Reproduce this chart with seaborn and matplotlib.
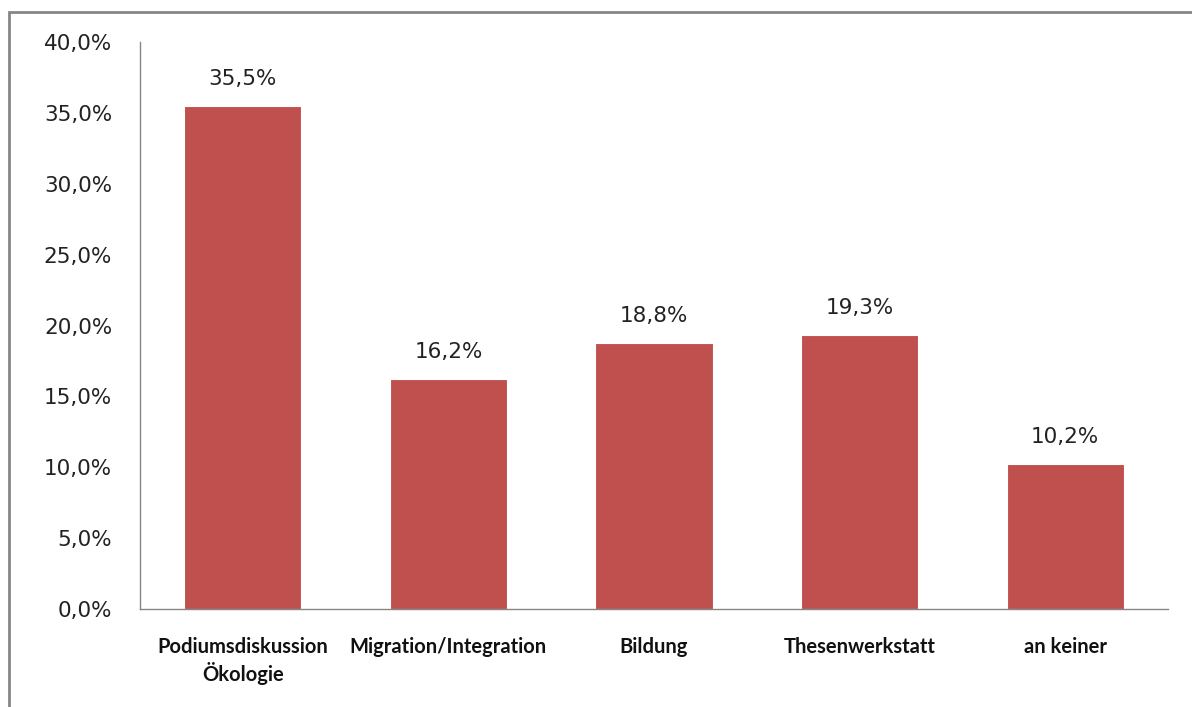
import matplotlib
matplotlib.use("Agg")
import matplotlib.pyplot as plt
import seaborn as sns
import pandas as pd
from matplotlib.patches import Rectangle
from matplotlib.ticker import FuncFormatter

# Data
categories = ["Podiumsdiskussion\nÖkologie", "Migration/Integration", "Bildung",
              "Thesenwerkstatt", "an keiner"]
values = [35.5, 16.2, 18.8, 19.3, 10.2]

df = pd.DataFrame({"cat": categories, "val": values})

sns.set_style("white")
plt.rcParams["font.family"] = ["DejaVu Sans"]
bar_color = "#C0504D"
axis_grey = "#868686"

fig = plt.figure(figsize=(11.92, 7.07), dpi=100)
ax = fig.add_axes([140 / 1192, 98 / 707, 1028 / 1192, 567 / 707])

sns.barplot(data=df, x="cat", y="val", color=bar_color, width=0.57,
            saturation=1, edgecolor="white", linewidth=0.8, ax=ax)

ax.set_ylim(0, 40)
ax.set_xlim(-0.5, len(categories) - 0.5)
ax.set_yticks(range(0, 41, 5))
ax.yaxis.set_major_formatter(FuncFormatter(lambda v, p: f"{v:.1f}%".replace(".", ",")))
ax.tick_params(axis="y", length=0, pad=20, labelsize=15.5, labelcolor="#222222")
ax.tick_params(axis="x", length=0, pad=20)
for lab in ax.get_xticklabels():
    lab.set_fontfamily("Lato")
    lab.set_fontweight("bold")
    lab.set_fontsize(14.5)
    lab.set_color("#111111")
    lab.set_linespacing(1.25)
ax.set_xlabel("")
ax.set_ylabel("")

# Spines
for side in ["top", "right"]:
    ax.spines[side].set_visible(False)
for side in ["left", "bottom"]:
    ax.spines[side].set_color(axis_grey)
    ax.spines[side].set_linewidth(1.0)

# Data labels
for i, v in enumerate(values):
    ax.annotate(f"{v:.1f}%".replace(".", ","), xy=(i, v), xytext=(0, 27),
                textcoords="offset pixels", ha="center", va="center",
                fontsize=15.5, color="#222222")

# Chart border (only top and left visible in the crop)
fig.patches.append(Rectangle((9 / 1192, -0.1), 1.2, (707 - 12) / 707 + 0.1,
                             transform=fig.transFigure, fill=False,
                             edgecolor=axis_grey, linewidth=2))

fig.savefig("out.png", dpi=100)
